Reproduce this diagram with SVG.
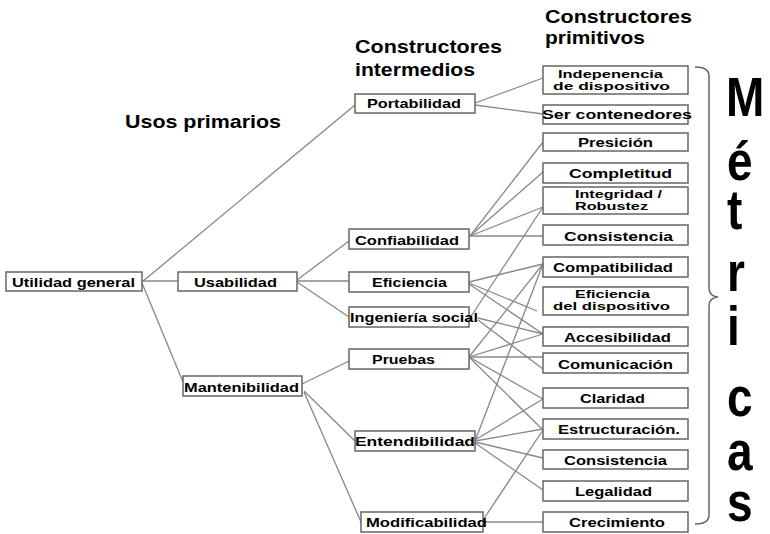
<svg xmlns="http://www.w3.org/2000/svg" width="770" height="534" viewBox="0 0 770 534">
<style>
rect.b{fill:#fff;stroke:#666;stroke-width:1.5}
text{font-family:"Liberation Sans",Arial,sans-serif;font-weight:bold;fill:#000}
.t{font-size:13.5px}
.s{font-size:11.5px}
.h{font-size:18.5px}
.m{font-size:50px}
#connectors line{stroke:#888;stroke-width:1.3}
</style>
<rect width="770" height="534" fill="#fff"/>
<g id="connectors">
<line x1="142" y1="282" x2="355" y2="105"/>
<line x1="142" y1="281" x2="178" y2="281"/>
<line x1="142" y1="283" x2="183" y2="382"/>
<line x1="475" y1="103" x2="543" y2="78"/>
<line x1="475" y1="105" x2="543" y2="114"/>
<line x1="297" y1="280" x2="349" y2="241"/>
<line x1="297" y1="281" x2="349" y2="281"/>
<line x1="297" y1="282" x2="349" y2="317"/>
<line x1="302" y1="384" x2="349" y2="361"/>
<line x1="304" y1="391" x2="355" y2="441"/>
<line x1="304" y1="392" x2="361" y2="522"/>
<line x1="470" y1="236" x2="543" y2="142"/>
<line x1="470" y1="236" x2="543" y2="172"/>
<line x1="470" y1="236" x2="543" y2="207"/>
<line x1="470" y1="236" x2="543" y2="236"/>
<line x1="469" y1="282" x2="543" y2="264"/>
<line x1="469" y1="283" x2="537" y2="311"/>
<line x1="469" y1="284" x2="543" y2="334"/>
<line x1="470" y1="318" x2="543" y2="207"/>
<line x1="478" y1="318" x2="543" y2="334"/>
<line x1="478" y1="320" x2="543" y2="369"/>
<line x1="469" y1="357" x2="543" y2="264"/>
<line x1="469" y1="357" x2="543" y2="334"/>
<line x1="469" y1="357" x2="543" y2="357"/>
<line x1="469" y1="357" x2="543" y2="399"/>
<line x1="469" y1="357" x2="543" y2="430"/>
<line x1="475" y1="441" x2="543" y2="264"/>
<line x1="475" y1="440" x2="543" y2="399"/>
<line x1="475" y1="441" x2="543" y2="429"/>
<line x1="475" y1="442" x2="543" y2="458"/>
<line x1="475" y1="443" x2="543" y2="490"/>
<line x1="483" y1="520" x2="543" y2="430"/>
<line x1="483" y1="522" x2="543" y2="522"/>
</g>
<g id="headers">
<text class="h" x="125" y="128" textLength="156" lengthAdjust="spacingAndGlyphs">Usos primarios</text>
<text class="h" x="355" y="53" textLength="147" lengthAdjust="spacingAndGlyphs">Constructores</text>
<text class="h" x="355" y="76" textLength="120" lengthAdjust="spacingAndGlyphs">intermedios</text>
<text class="h" x="545" y="23" textLength="147" lengthAdjust="spacingAndGlyphs">Constructores</text>
<text class="h" x="545" y="44" textLength="100" lengthAdjust="spacingAndGlyphs">primitivos</text>
</g>
<g id="n-util"><rect class="b" x="6" y="272" width="136" height="19"/><text class="t" x="12" y="287" textLength="123" lengthAdjust="spacingAndGlyphs">Utilidad general</text></g>
<g id="n-usab"><rect class="b" x="178" y="272" width="119" height="19"/><text class="t" x="194" y="287" textLength="83" lengthAdjust="spacingAndGlyphs">Usabilidad</text></g>
<g id="n-mant"><rect class="b" x="183" y="376" width="119" height="20"/><text class="t" x="184" y="392" textLength="115" lengthAdjust="spacingAndGlyphs">Mantenibilidad</text></g>
<g id="n-port"><rect class="b" x="355" y="94" width="120" height="19"/><text class="t" x="367" y="108" textLength="94" lengthAdjust="spacingAndGlyphs">Portabilidad</text></g>
<g id="n-conf"><rect class="b" x="349" y="229" width="120" height="20"/><text class="t" x="355" y="245" textLength="104" lengthAdjust="spacingAndGlyphs">Confiabilidad</text></g>
<g id="n-efic"><rect class="b" x="349" y="272" width="120" height="20"/><text class="t" x="372" y="287" textLength="75" lengthAdjust="spacingAndGlyphs">Eficiencia</text></g>
<g id="n-ing"><rect class="b" x="349" y="307" width="120" height="20"/><text class="t" x="350" y="322" textLength="128" lengthAdjust="spacingAndGlyphs">Ingeniería social</text></g>
<g id="n-prue"><rect class="b" x="349" y="349" width="120" height="20"/><text class="t" x="372" y="364" textLength="63" lengthAdjust="spacingAndGlyphs">Pruebas</text></g>
<g id="n-ente"><rect class="b" x="355" y="431" width="120" height="20"/><text class="t" x="355" y="446" textLength="120" lengthAdjust="spacingAndGlyphs">Entendibilidad</text></g>
<g id="n-modi"><rect class="b" x="361" y="512" width="122" height="20"/><text class="t" x="366" y="527" textLength="121" lengthAdjust="spacingAndGlyphs">Modificabilidad</text></g>
<g id="n-indep"><rect class="b" x="543" y="66" width="145" height="28"/><text class="s" x="558" y="78" textLength="105" lengthAdjust="spacingAndGlyphs">Indepenencia</text><text class="s" x="553" y="89.5" textLength="117" lengthAdjust="spacingAndGlyphs">de dispositivo</text></g>
<g id="n-ser"><rect class="b" x="543" y="105" width="145" height="19"/><text class="t" x="542" y="119" textLength="150" lengthAdjust="spacingAndGlyphs">Ser contenedores</text></g>
<g id="n-pres"><rect class="b" x="543" y="133" width="145" height="18"/><text class="t" x="578" y="147" textLength="75" lengthAdjust="spacingAndGlyphs">Presición</text></g>
<g id="n-compl"><rect class="b" x="543" y="163" width="145" height="20"/><text class="t" x="569" y="178" textLength="103" lengthAdjust="spacingAndGlyphs">Completitud</text></g>
<g id="n-integ"><rect class="b" x="543" y="187" width="145" height="27"/><text class="s" x="575" y="198" textLength="87" lengthAdjust="spacingAndGlyphs">Integridad /</text><text class="s" x="575" y="210" textLength="73" lengthAdjust="spacingAndGlyphs">Robustez</text></g>
<g id="n-cons1"><rect class="b" x="543" y="225" width="145" height="20"/><text class="t" x="564" y="241" textLength="109" lengthAdjust="spacingAndGlyphs">Consistencia</text></g>
<g id="n-compa"><rect class="b" x="543" y="257" width="145" height="20"/><text class="t" x="553" y="272" textLength="120" lengthAdjust="spacingAndGlyphs">Compatibilidad</text></g>
<g id="n-efdisp"><rect class="b" x="543" y="287" width="145" height="28"/><text class="s" x="575" y="298" textLength="75" lengthAdjust="spacingAndGlyphs">Eficiencia</text><text class="s" x="553" y="310" textLength="117" lengthAdjust="spacingAndGlyphs">del dispositivo</text></g>
<g id="n-acce"><rect class="b" x="543" y="327" width="145" height="19"/><text class="t" x="564" y="342" textLength="107" lengthAdjust="spacingAndGlyphs">Accesibilidad</text></g>
<g id="n-comu"><rect class="b" x="543" y="353" width="145" height="20"/><text class="t" x="558" y="369" textLength="115" lengthAdjust="spacingAndGlyphs">Comunicación</text></g>
<g id="n-clar"><rect class="b" x="543" y="388" width="145" height="20"/><text class="t" x="580" y="403" textLength="65" lengthAdjust="spacingAndGlyphs">Claridad</text></g>
<g id="n-estr"><rect class="b" x="543" y="419" width="145" height="20"/><text class="t" x="558" y="434" textLength="122" lengthAdjust="spacingAndGlyphs">Estructuración.</text></g>
<g id="n-cons2"><rect class="b" x="543" y="450" width="145" height="19"/><text class="t" x="564" y="465" textLength="103" lengthAdjust="spacingAndGlyphs">Consistencia</text></g>
<g id="n-lega"><rect class="b" x="543" y="481" width="145" height="20"/><text class="t" x="575" y="496" textLength="77" lengthAdjust="spacingAndGlyphs">Legalidad</text></g>
<g id="n-crec"><rect class="b" x="543" y="512" width="145" height="20"/><text class="t" x="569" y="527" textLength="96" lengthAdjust="spacingAndGlyphs">Crecimiento</text></g>
<g id="metricas">
<path d="M695,67 Q709,67 709,76 L709,288 Q709,296 718,297 Q709,298 709,306 L709,515 Q709,524 695,524" fill="none" stroke="#666" stroke-width="1.5"/>
<text class="m" transform="translate(726,0) scale(0.92,1.1)"><tspan x="0" y="105.5">M</tspan><tspan x="1" y="163.6">é</tspan><tspan x="1" y="208.2">t</tspan><tspan x="1" y="264.5">r</tspan><tspan x="1" y="313.6">i</tspan><tspan x="1" y="378.2">c</tspan><tspan x="1" y="427.3">a</tspan><tspan x="1" y="473.6">s</tspan></text>
</g>
</svg>
